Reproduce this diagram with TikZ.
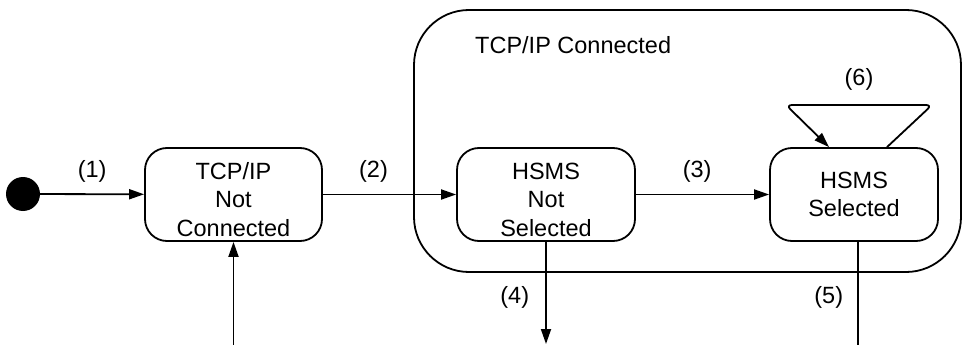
\documentclass[tikz,border=0pt]{standalone}
\usepackage{fontspec}
\setmainfont{Liberation Sans}
\usetikzlibrary{arrows.meta}
\newcommand{\topstrut}{\rule{0pt}{27pt}}
\begin{document}
\begin{tikzpicture}[x=1pt,y=-1pt,
  every node/.style={font=\fontsize{23.5}{28.5}\selectfont},
  statebox/.style={draw, line width=1.8pt, rounded corners=22pt, minimum height=93pt, align=center, inner sep=0pt},
  lbl/.style={inner sep=0pt},
  arr/.style={line width=1.8pt, -{Triangle[length=15pt,width=10pt]}},
  plain/.style={line width=1.8pt}]
\useasboundingbox (0,0) rectangle (964,345);
\node[draw, line width=1.8pt, rounded corners=55pt, minimum width=547pt, minimum height=262pt, inner sep=0pt] (conn) at (687.5,141) {};
\node[lbl, anchor=west] (connlbl) at (475,45) {TCP/IP Connected};
\node[circle, fill, minimum size=34pt, inner sep=0pt] (init) at (23,194) {};
\node[statebox, minimum width=177pt] (nc) at (233.5,194.5) {\topstrut TCP/IP\\Not\\Connected};
\node[statebox, minimum width=178pt] (ns) at (546,194.5) {\topstrut HSMS\\Not\\Selected};
\node[statebox, minimum width=168pt] (sel) at (854,194.5) {HSMS\\Selected};
\coordinate (in1) at (233.5,345);
\coordinate (out4) at (546,344);
\coordinate (out5) at (858,345);
\draw[arr] (init) -- (nc) node[lbl, midway, above=11pt] {(1)};
\draw[arr] (nc) -- (ns) node[lbl, pos=0.38, above=11pt] {(2)};
\draw[arr] (ns) -- (sel) node[lbl, pos=0.46, above=11pt] {(3)};
\draw[arr] (ns.south) -- (out4) node[lbl, pos=0.54, left=16pt] {(4)};
\draw[plain] (sel.south -| out5) -- (out5) node[lbl, pos=0.54, left=14pt] {(5)};
\draw[arr] (in1) -- (nc.south);
\draw[arr, rounded corners=6pt] ([xshift=33pt]sel.north) -- (932,105) -- (786,105) node[lbl, midway, above=14pt] {(6)} -- ([xshift=-25pt]sel.north);
\end{tikzpicture}
\end{document}
